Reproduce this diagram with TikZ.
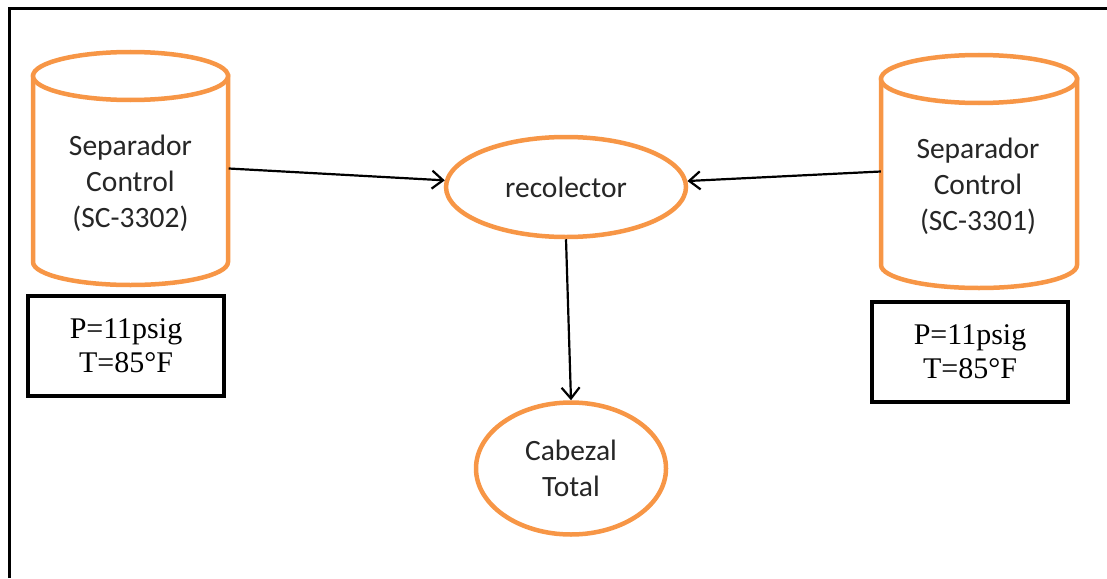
\documentclass[tikz,border=0pt]{standalone}
\usepackage{fontspec}
\setmainfont{Liberation Serif}
\newfontfamily\carlito{Carlito}
\usetikzlibrary{arrows.meta,shapes.geometric}
\definecolor{sorange}{RGB}{247,150,70}
\definecolor{txtgray}{RGB}{38,38,38}
\tikzset{
  vessel/.style={draw=sorange,line width=4.5pt,fill=white},
  vesselbox/.style={draw=none,minimum width=196pt,minimum height=234pt,inner sep=0pt},
  vlabel/.style={align=center,text=txtgray,font=\carlito\fontsize{29.5}{36}\selectfont},
  condbox/.style={draw=black,line width=4pt,fill=white,minimum width=196pt,minimum height=100pt,inner sep=0pt,align=center,font=\fontsize{30}{34}\selectfont},
  oval/.style={ellipse,draw=sorange,line width=4.5pt,fill=white,inner sep=0pt,align=center,text=txtgray,font=\carlito\fontsize{29.5}{36}\selectfont},
  flow/.style={draw=black,line width=2.2pt,-{Straight Barb[length=11pt,width=18pt,line width=2.2pt]}},
  frame/.style={draw=black,line width=3pt}
}
\begin{document}
\begin{tikzpicture}[x=1pt,y=-1pt]
\useasboundingbox (0,0) rectangle (1107,578);
\draw[frame] (9,578) coordinate (fb) -- (9,9) coordinate (fc) -- (1107,9) coordinate (fr);

% left vessel
\path[vessel] (33,76) -- (33,262) arc[start angle=180,end angle=360,x radius=97.5pt,y radius=23pt] -- (228,76) -- cycle;
\draw[vessel] (130.5,76) ellipse [x radius=97.5pt,y radius=24pt];
\node[vesselbox] (sepL) at (130.5,168.5) {};
\node[vlabel] (labL) at (130.5,183) {Separador\\Control\\(SC-3302)};

% right vessel
\path[vessel] (881,79) -- (881,265) arc[start angle=180,end angle=360,x radius=98pt,y radius=23pt] -- (1077,79) -- cycle;
\draw[vessel] (979,79) ellipse [x radius=98pt,y radius=24pt];
\node[vesselbox] (sepR) at (979,171.5) {};
\node[vlabel] (labR) at (978,186) {Separador\\Control\\(SC-3301)};

% condition boxes
\node[condbox] (boxL) at (126,346) {P=11psig\\T=85°F};
\node[condbox] (boxR) at (970,352) {P=11psig\\T=85°F};

% collector and header
\node[oval,minimum width=240pt,minimum height=100pt] (rec) at (566,187) {recolector};
\node[oval,minimum width=190pt,minimum height=132pt] (cab) at (571,468.5) {Cabezal\\Total};

% flows
\draw[flow] (sepL.east) -- (rec);
\draw[flow] (sepR.west) -- (rec);
\draw[flow] (rec.south) -- (cab.north);
\end{tikzpicture}
\end{document}
